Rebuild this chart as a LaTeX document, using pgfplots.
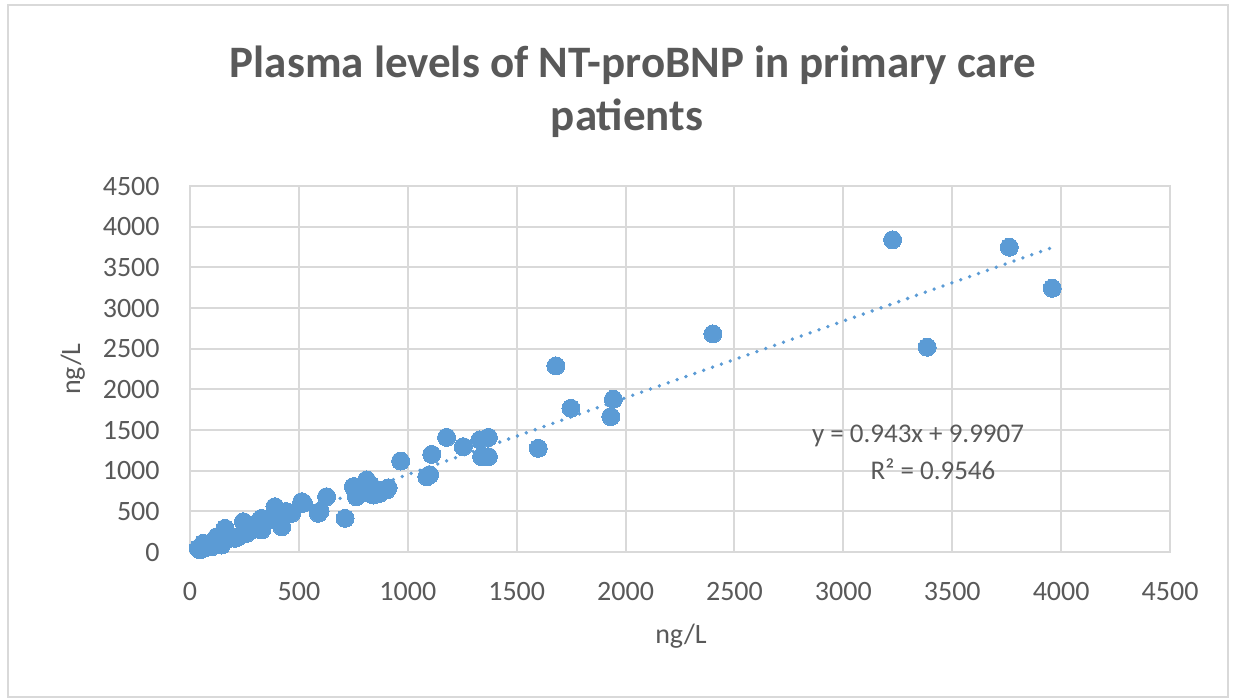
\documentclass[border=0pt]{standalone}
\usepackage{fontspec}
\setmainfont{Carlito}
\usepackage{pgfplots}
\pgfplotsset{compat=1.18}
\definecolor{ptblue}{HTML}{5B9BD5}
\definecolor{txtgray}{HTML}{595959}
\definecolor{gridgray}{HTML}{D9D9D9}
\begin{document}
\begin{tikzpicture}
\begin{scope}[x=0.5bp,y=-0.5bp]
\useasboundingbox (0,0) rectangle (1233,698);
\draw[gridgray, line width=1bp] (8,5) rectangle (1228,697);
\end{scope}
\begin{axis}[
  at={(95bp,-276bp)}, anchor=south west,
  scale only axis, width=490bp, height=183bp,
  xmin=0, xmax=4500, ymin=0, ymax=4500,
  xtick={0,500,...,4500}, ytick={0,500,...,4500},
  grid=major, major grid style={gridgray, line width=1bp},
  axis line style={gridgray, line width=1bp},
  major tick length=0pt,
  /pgf/number format/assume math mode=true,
  /pgf/number format/1000 sep={},
  xticklabel style={font=\fontsize{14bp}{16bp}\selectfont, text=txtgray, inner sep=0pt, anchor=north, yshift=-15bp},
  yticklabel style={font=\fontsize{14bp}{16bp}\selectfont, text=txtgray, inner sep=0pt, anchor=east, xshift=-15bp},
  clip=false,
]
\addplot[ptblue, line width=1.9bp, line cap=round, dash pattern=on 0pt off 4.7bp]
  coordinates {(38,45.8) (3959,3743.3)};
\addplot[only marks, mark=*, mark size=4.5bp, mark options={fill=ptblue, draw=ptblue, line width=0pt}]
  table {
x y
38 45
46 25
55 80
61 107
80 60
92 107
100 65
115 148
123 188
138 107
145 86
161 291
170 200
184 168
207 168
222 188
245 373
253 353
260 230
275 311
283 271
300 330
321 394
329 414
329 271
350 380
383 394
390 557
413 353
421 311
413 476
436 496
444 496
459 476
467 476
513 619
521 599
589 476
597 500
627 680
712 414
750 803
758 803
764 680
773 700
811 886
830 820
842 701
860 760
872 722
903 763
910 790
967 1119
1087 926
1100 950
1110 1200
1178 1410
1255 1295
1331 1378
1339 1172
1370 1410
1370 1172
1599 1275
1680 2288
1749 1767
1932 1665
1944 1878
2401 2681
3226 3838
3385 2518
3762 3748
3959 3243
};
\end{axis}
\begin{scope}[x=0.5bp,y=-0.5bp]
\node[anchor=base, text=txtgray, font=\fontsize{22.5bp}{27bp}\selectfont\bfseries, inner sep=0pt] at (633,78) {Plasma levels of NT-proBNP in primary care};
\node[anchor=base, text=txtgray, font=\fontsize{22.5bp}{27bp}\selectfont\bfseries, inner sep=0pt] at (627,130) {patients};
\node[anchor=base, text=txtgray, font=\fontsize{14bp}{16bp}\selectfont, inner sep=0pt] at (681,643) {ng/L};
\node[anchor=base, rotate=90, text=txtgray, font=\fontsize{14bp}{16bp}\selectfont, inner sep=0pt] at (80,369) {ng/L};
\node[anchor=base, text=txtgray, font=\fontsize{13.5bp}{16bp}\selectfont, inner sep=0pt] at (918,442) {y = 0.943x + 9.9907};
\node[anchor=base, text=txtgray, font=\fontsize{13.5bp}{16bp}\selectfont, inner sep=0pt] at (933,479) {R² = 0.9546};
\end{scope}
\end{tikzpicture}
\end{document}
